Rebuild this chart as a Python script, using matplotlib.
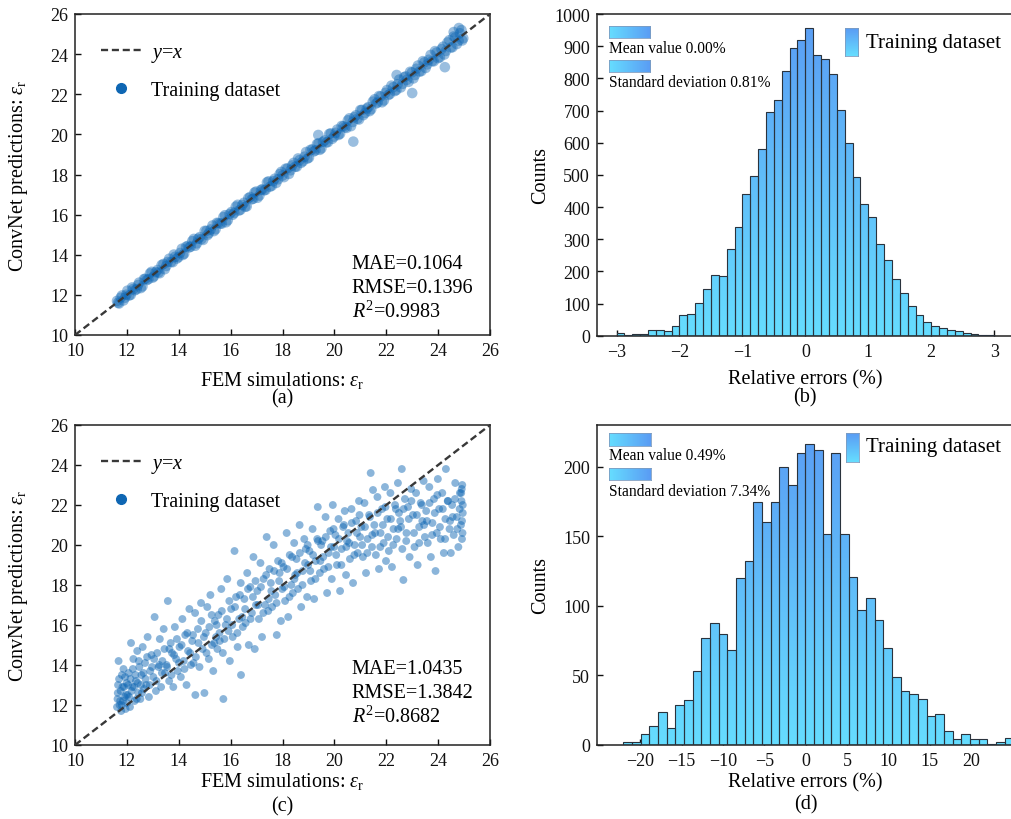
import numpy as np
import matplotlib
matplotlib.use('Agg')
import matplotlib.pyplot as plt
from matplotlib.colors import LinearSegmentedColormap
from matplotlib.path import Path
from matplotlib.patches import PathPatch
from matplotlib.lines import Line2D

plt.rcParams['font.family'] = ['Liberation Serif', 'DejaVu Serif']
plt.rcParams['mathtext.fontset'] = 'custom'
plt.rcParams['mathtext.rm'] = 'Liberation Serif'
plt.rcParams['mathtext.it'] = 'Liberation Serif:italic'
plt.rcParams['mathtext.bf'] = 'Liberation Serif:bold'

# ---------------- data ----------------
# (a) training set: FEM vs ConvNet
fem_a = [11.62, 11.70, 11.81, 11.93, 12.02, 12.15, 12.24, 12.38, 12.47, 12.60, 12.71, 12.83, 12.95, 13.04,
         13.18, 13.27, 13.41, 13.52, 13.63, 13.77, 13.86, 13.99, 14.12, 14.21, 14.35, 14.46, 14.58, 14.70,
         14.81, 14.94, 15.07, 15.16, 15.30, 15.42, 15.53, 15.66, 15.78, 15.89, 16.03, 16.14, 16.27, 16.38,
         16.51, 16.62, 16.75, 16.87, 16.98, 17.11, 17.23, 17.35, 17.46, 17.59, 17.70, 17.83, 17.95, 18.06,
         18.19, 18.31, 18.43, 18.55, 18.66, 18.79, 18.91, 19.02, 19.15, 19.27, 19.39, 19.50, 19.63, 19.75,
         19.86, 19.99, 20.11, 20.22, 20.35, 20.47, 20.58, 20.71, 20.83, 20.95, 21.06, 21.19, 21.31, 21.42,
         21.55, 21.67, 21.78, 21.91, 22.03, 22.14, 22.27, 22.39, 22.50, 22.63, 22.75, 22.86, 22.99, 23.11,
         23.22, 23.35, 23.47, 23.58, 23.71, 23.83, 23.94, 24.07, 24.19, 24.30, 24.43, 24.55, 24.66, 24.79,
         24.90, 24.97, 20.73, 23.00, 24.26, 22.40, 19.38, 24.80, 24.60,
         11.66, 11.76, 11.87, 11.98, 12.09, 12.20, 12.31, 12.43, 12.54, 12.66,
         12.77, 12.89, 13.00, 13.11, 13.22, 13.34, 13.46, 13.57, 13.70, 13.81,
         13.93, 14.05, 14.16, 14.28, 14.40, 14.52, 14.64, 14.75, 14.87, 15.00,
         15.11, 15.23, 15.36, 15.47, 15.60, 15.72, 15.83, 15.96, 16.08, 16.20,
         16.32, 16.45, 16.56, 16.68, 16.81, 16.92, 17.04, 17.17, 17.29, 17.40,
         17.52, 17.64, 17.76, 17.89, 18.00, 18.12, 18.25, 18.37, 18.49, 18.60,
         18.72, 18.85, 18.96, 19.08, 19.21, 19.33, 19.44, 19.56, 19.69, 19.80,
         19.92, 20.05, 20.16, 20.28, 20.41, 20.52, 20.64, 20.77, 20.89, 21.00,
         21.12, 21.25, 21.36, 21.48, 21.61, 21.72, 21.84, 21.97, 22.08, 22.20,
         22.33, 22.44, 22.56, 22.69, 22.80, 22.92, 23.05, 23.16, 23.28, 23.41,
         23.52, 23.64, 23.77, 23.88, 24.00, 24.13, 24.24, 24.36, 24.49, 24.60,
         24.72, 24.84, 24.93]
pred_a = [11.70, 11.57, 11.97, 11.86, 12.21, 12.00, 12.29, 12.28, 12.61, 12.42, 12.80, 12.78, 13.15, 12.92,
          13.24, 13.08, 13.54, 13.44, 13.80, 13.63, 13.90, 13.88, 14.30, 14.05, 14.44, 14.40, 14.79, 14.57,
          14.88, 14.74, 15.19, 15.07, 15.46, 15.27, 15.58, 15.55, 15.97, 15.72, 16.13, 16.08, 16.49, 16.24,
          16.59, 16.41, 16.88, 16.79, 17.15, 16.95, 17.27, 17.23, 17.66, 17.44, 17.79, 17.76, 18.13, 17.87,
          18.30, 18.21, 18.58, 18.39, 18.72, 18.66, 19.12, 18.84, 19.25, 19.20, 19.56, 19.30, 19.70, 19.61,
          20.05, 19.89, 20.24, 20.03, 20.41, 20.32, 20.80, 20.62, 20.95, 20.74, 21.22, 21.07, 21.36, 21.25,
          21.75, 21.59, 21.89, 21.69, 22.21, 22.01, 22.35, 22.21, 22.73, 22.52, 22.89, 22.62, 23.09, 22.96,
          23.43, 23.15, 23.59, 23.49, 23.96, 23.64, 24.08, 23.84, 24.37, 24.16, 24.69, 24.34, 24.83, 24.67,
          25.20, 24.79, 19.64, 22.06, 23.35, 22.96, 19.97, 25.30, 25.10,
          11.61, 11.86, 11.72, 12.01, 11.97, 12.37, 12.23, 12.49, 12.34, 12.79,
          12.74, 13.07, 12.86, 13.13, 13.12, 13.49, 13.28, 13.64, 13.64, 14.01,
          13.81, 14.09, 13.99, 14.40, 14.36, 14.68, 14.45, 14.80, 14.78, 15.19,
          14.98, 15.26, 15.18, 15.59, 15.55, 15.88, 15.62, 16.03, 15.99, 16.40,
          16.20, 16.48, 16.39, 16.82, 16.76, 17.10, 16.84, 17.23, 17.21, 17.61,
          17.39, 17.67, 17.58, 18.02, 17.95, 18.29, 18.03, 18.45, 18.39, 18.80,
          18.58, 18.89, 18.79, 19.23, 19.15, 19.52, 19.23, 19.63, 19.60, 20.02,
          19.78, 20.08, 19.97, 20.42, 20.35, 20.70, 20.41, 20.86, 20.78, 21.21,
          20.96, 21.29, 21.16, 21.63, 21.54, 21.91, 21.60, 22.07, 21.96, 22.43,
          22.16, 22.50, 22.34, 22.85, 22.72, 23.12, 22.79, 23.27, 23.13, 23.65,
          23.31, 23.72, 23.65, 24.15, 23.80, 24.25, 23.98, 24.58, 24.33, 24.88,
          24.50, 25.04, 24.68]

# (c) test set: FEM vs ConvNet
fem_c = [11.62, 11.65, 11.70, 11.74, 11.78, 11.83, 11.87, 11.91, 11.95, 11.99, 11.68, 11.80,
         12.03, 12.07, 12.12, 12.16, 12.21, 12.25, 12.30, 12.35, 12.40, 12.44, 12.48,
         12.52, 12.56, 12.61, 12.66, 12.70, 12.75, 12.80, 12.85, 12.90, 12.95,
         13.02, 13.07, 13.12, 13.17, 13.22, 13.27, 13.32, 13.37, 13.42, 13.47,
         13.53, 13.58, 13.63, 13.69, 13.74, 13.79, 13.85, 13.90, 13.96,
         14.03, 14.08, 14.14, 14.19, 14.25, 14.30, 14.36, 14.41, 14.47,
         14.52, 14.57, 14.63, 14.64, 14.74, 14.80, 14.86, 14.92, 14.99,
         15.04, 15.10, 15.16, 15.22, 15.28, 15.33, 15.39, 15.44, 15.49,
         15.53, 15.58, 15.64, 15.70, 15.72, 15.81, 15.87, 15.92, 15.97,
         16.02, 16.08, 16.15, 16.21, 16.27, 16.33, 16.39, 16.40, 16.47,
         16.53, 16.58, 16.64, 16.70, 16.76, 16.82, 16.88, 16.93, 16.98,
         17.03, 17.09, 17.15, 17.21, 17.27, 17.33, 17.39, 17.45, 17.50,
         17.55, 17.60, 17.66, 17.72, 17.78, 17.83, 17.89, 17.94, 17.99,
         18.04, 18.10, 18.16, 18.22, 18.28, 18.34, 18.40, 18.45, 18.49,
         18.54, 18.60, 18.66, 18.72, 18.78, 18.84, 18.90, 18.95, 18.99,
         19.04, 19.10, 19.16, 19.22, 19.28, 19.34, 19.36, 19.44, 19.49,
         19.54, 19.60, 19.66, 19.72, 19.78, 19.84, 19.90, 19.94, 19.99,
         20.04, 20.10, 20.16, 20.22, 20.28, 20.34, 20.40, 20.45, 20.49,
         20.54, 20.60, 20.66, 20.72, 20.78, 20.84, 20.90, 20.95, 20.99,
         21.04, 21.10, 21.16, 21.22, 21.28, 21.34, 21.40, 21.45, 21.49,
         21.54, 21.60, 21.66, 21.72, 21.78, 21.84, 21.90, 21.95, 21.99,
         22.04, 22.10, 22.16, 22.22, 22.28, 22.34, 22.40, 22.45, 22.49,
         22.54, 22.60, 22.62, 22.66, 22.72, 22.78, 22.84, 22.90, 22.96,
         23.03, 23.09, 23.15, 23.21, 23.27, 23.33, 23.39, 23.44, 23.49,
         23.54, 23.60, 23.66, 23.72, 23.78, 23.84, 23.90, 23.95, 23.99,
         24.04, 24.10, 24.16, 24.22, 24.28, 24.30, 24.38, 24.44, 24.49,
         24.54, 24.60, 24.66, 24.72, 24.78, 24.84, 24.88, 24.90, 24.92, 24.93, 24.95, 24.91,
         # denser core of the cloud
         11.64, 11.66, 11.72, 11.76, 11.81, 11.85, 11.89, 11.93, 11.97, 12.01,
         12.05, 12.09, 12.14, 12.18, 12.23, 12.28, 12.33, 12.38, 12.42, 12.46,
         12.54, 12.58, 12.64, 12.72, 12.78, 12.88, 12.97, 13.05, 13.14, 13.25, 13.35, 13.45,
         13.55, 13.64, 13.72, 13.82, 13.93, 14.01, 14.11, 14.22, 14.33, 14.44,
         14.55, 14.66, 14.76, 14.87, 14.97, 15.07, 15.18, 15.27, 15.37, 15.46,
         15.57, 15.66, 15.76, 15.86, 15.95, 16.06, 16.17, 16.26, 16.36, 16.45,
         16.56, 16.67, 16.77, 16.86, 16.96, 17.06, 17.17, 17.26, 17.37, 17.47,
         17.57, 17.68, 17.77, 17.87, 17.97, 18.07, 18.18, 18.27, 18.37, 18.46,
         18.57, 18.67, 18.77, 18.87, 18.97, 19.07, 19.18, 19.27, 19.37, 19.46,
         19.57, 19.67, 19.77, 19.87, 19.97, 20.07, 20.18, 20.27, 20.37, 20.46,
         20.57, 20.67, 20.77, 20.87, 20.97, 21.07, 21.18, 21.27, 21.37, 21.46,
         21.57, 21.67, 21.77, 21.87, 21.97, 22.07, 22.18, 22.27, 22.37, 22.46,
         22.57, 22.67, 22.77, 22.87, 22.97, 23.07, 23.18, 23.27, 23.37, 23.46,
         23.57, 23.67, 23.77, 23.87, 23.97, 24.07, 24.18, 24.27, 24.37, 24.46,
         24.56, 24.65, 24.74, 24.83, 24.89, 24.92, 24.94, 24.95]
pred_c = [11.9, 12.6, 13.3, 12.2, 11.7, 12.9, 13.8, 12.4, 11.8, 13.1, 14.2, 12.0,
          12.5, 13.6, 11.9, 15.1, 12.9, 14.3, 12.2, 13.2, 14.7, 12.6, 13.9,
          12.3, 13.5, 14.9, 12.8, 14.1, 13.0, 15.4, 12.4, 13.7, 14.5,
          13.4, 16.4, 12.7, 14.6, 13.9, 15.3, 12.9, 14.2, 15.8, 13.6,
          14.0, 17.2, 13.2, 15.1, 14.6, 12.9, 15.9, 14.3, 13.7,
          14.9, 13.4, 16.3, 14.2, 15.5, 13.0, 14.7, 16.8, 14.0,
          15.2, 14.1, 16.6, 12.5, 15.8, 13.9, 17.1, 14.8, 12.6,
          15.6, 16.9, 14.3, 17.5, 15.0, 13.7, 16.2, 15.4, 14.8,
          16.5, 15.2, 17.8, 14.6, 12.3, 16.0, 18.3, 15.7, 14.2,
          16.8, 15.4, 19.7, 17.4, 14.9, 16.3, 18.1, 13.5, 15.9,
          17.3, 16.1, 18.6, 15.0, 17.9, 16.6, 19.4, 14.8, 17.0,
          17.7, 16.3, 19.1, 15.4, 18.3, 17.0, 20.4, 16.7, 18.8,
          18.1, 16.9, 20.0, 17.5, 15.5, 19.2, 18.6, 16.2, 17.8,
          18.9, 17.2, 20.6, 16.4, 19.5, 18.0, 17.6, 20.1, 18.5,
          19.3, 17.8, 21.0, 16.9, 18.7, 20.3, 19.8, 17.4, 19.0,
          19.7, 18.2, 20.8, 17.3, 19.2, 20.3, 21.9, 18.6, 20.0,
          20.2, 18.8, 21.4, 17.6, 19.6, 20.7, 18.3, 22.0, 19.9,
          20.5, 19.0, 21.3, 17.7, 19.8, 20.9, 21.7, 18.5, 20.2,
          20.6, 19.3, 21.8, 18.1, 20.0, 21.2, 19.6, 22.2, 20.4,
          20.9, 19.4, 22.1, 18.6, 20.3, 21.5, 23.6, 19.9, 22.75,
          21.0, 19.5, 22.4, 18.8, 20.6, 21.8, 20.1, 22.9, 19.2,
          21.3, 19.7, 22.6, 18.9, 20.8, 22.0, 20.3, 23.1, 21.6,
          21.2, 23.8, 19.8, 18.25, 22.3, 20.6, 21.9, 19.4, 22.8,
          21.5, 19.9, 22.6, 19.0, 20.9, 22.1, 21.2, 23.2, 20.4,
          21.7, 20.1, 22.9, 19.4, 21.1, 22.3, 18.7, 20.6, 23.3,
          21.8, 20.3, 22.6, 19.6, 21.3, 23.8, 22.2, 20.8, 19.6,
          22.0, 20.5, 23.1, 21.4, 19.9, 22.6, 21.0, 22.2, 20.3, 23.0, 21.6, 22.8,
          # denser core of the cloud
          12.3, 13.0, 12.0, 12.7, 13.5, 12.2, 12.9, 13.4, 12.5, 12.1,
          13.0, 12.4, 13.3, 12.7, 13.8, 12.9, 13.5, 12.3, 13.1, 14.2,
          13.0, 12.6, 13.6, 13.3, 14.4, 13.0, 13.9, 14.3, 13.2, 14.0, 13.6, 14.8,
          13.9, 14.8, 13.5, 14.5, 15.3, 14.1, 15.0, 13.8, 15.6, 14.6,
          15.5, 14.4, 15.1, 16.2, 15.4, 14.6, 15.9, 16.5, 15.1, 16.0,
          15.6, 16.7, 15.3, 16.3, 17.2, 16.0, 16.9, 15.6, 17.5, 16.4,
          16.8, 17.8, 16.3, 17.4, 18.2, 17.0, 17.9, 16.6, 18.5, 17.3,
          17.7, 18.7, 17.1, 18.2, 19.1, 17.9, 18.8, 17.4, 19.4, 18.3,
          18.6, 19.6, 18.0, 19.1, 20.0, 18.7, 19.5, 18.3, 20.2, 19.2,
          19.4, 20.4, 18.9, 19.9, 20.8, 19.5, 20.3, 19.0, 21.0, 19.9,
          20.1, 21.1, 19.5, 20.6, 21.5, 20.0, 20.9, 19.6, 21.4, 20.5,
          20.6, 21.6, 19.9, 21.0, 21.9, 20.4, 21.3, 20.0, 21.8, 20.8,
          20.9, 21.8, 20.2, 21.3, 22.2, 20.6, 21.5, 20.1, 22.0, 21.0,
          21.2, 22.1, 20.5, 21.6, 22.5, 20.9, 21.8, 20.3, 22.2, 21.2,
          21.4, 22.3, 20.8, 21.8, 22.6, 21.2, 20.6, 22.0]

metrics_a = ["MAE=0.1064", "RMSE=0.1396", r"$R^{2}$=0.9983"]
metrics_c = ["MAE=1.0435", "RMSE=1.3842", r"$R^{2}$=0.8682"]

# (b) histogram of relative errors, bins of 0.125 % from -3 to 3
hist_b_start, hist_b_width = -3.0, 0.125
counts_b = [7, 2, 4, 6, 18, 18, 15, 31, 65, 68, 101, 145, 190, 186, 268, 337, 439, 495, 580, 694,
            733, 823, 894, 919, 956, 873, 860, 814, 702, 600, 493, 410, 369, 285, 234, 175, 132, 92,
            64, 44, 30, 24, 19, 14, 8, 5, 2, 1]
stats_b = ["Mean value 0.00%", "Standard deviation 0.81%"]

# (d) histogram of relative errors
hist_d_start, hist_d_width = -22.05, 1.048
counts_d = [2, 2, 8, 14, 24, 12, 29, 32, 53, 77, 88, 80, 68, 120, 132, 175, 160, 175, 200, 187,
            210, 216, 212, 152, 210, 152, 121, 97, 106, 90, 70, 49, 39, 37, 33, 21, 22, 10, 4, 8,
            4, 4, 1, 2, 5]
stats_d = ["Mean value 0.49%", "Standard deviation 7.34%"]

ticks_scatter = [10, 12, 14, 16, 18, 20, 22, 24, 26]
ticks_bx = [-3, -2, -1, 0, 1, 2, 3]
ticks_by = list(range(0, 1001, 100))
ticks_dx = [-20, -15, -10, -5, 0, 5, 10, 15, 20]
ticks_dy = [0, 50, 100, 150, 200]

# ---------------- style ----------------
PT = '#0e66b3'
LINE = '#383838'
SPINE = '#222222'
CMAP = LinearSegmentedColormap.from_list('cb', ['#66ddff', '#5a9cf4'])
TICK_FS = 13
LAB_FS = 14.5

W, H = 1011, 820
fig = plt.figure(figsize=(W / 100, H / 100), dpi=100)


def px_axes(l, t, r, b):
    return fig.add_axes([l / W, 1 - b / H, (r - l) / W, (b - t) / H])


def style_axes(ax):
    for s in ax.spines.values():
        s.set_color(SPINE)
        s.set_linewidth(1.1)
    ax.tick_params(direction='in', length=4, width=1, labelsize=TICK_FS, top=False, right=False,
                   pad=5, colors='#111111')


def scatter_panel(ax, x, y, metrics, alpha, s, mty):
    ax.plot([10, 26], [10, 26], ls=(0, (3, 1.6)), color=LINE, lw=1.7, zorder=3)
    ax.scatter(x, y, s=s, color=PT, alpha=alpha, edgecolors='none', zorder=2)
    ax.set_xlim(10, 26)
    ax.set_ylim(10, 26)
    ax.set_xticks(ticks_scatter)
    ax.set_yticks(ticks_scatter)
    style_axes(ax)
    handles = [Line2D([], [], ls=(0, (3, 1.6)), color=LINE, lw=1.7),
               Line2D([], [], ls='none', marker='o', color=PT, markersize=7)]
    ax.legend(handles, [r"$y$=$x$", "Training dataset"], loc='upper left', frameon=False,
              fontsize=LAB_FS, handlelength=2.0, handletextpad=0.45, labelspacing=0.8,
              bbox_to_anchor=(0.0, 0.99), borderaxespad=0.9)
    for i, m in enumerate(metrics):
        ax.text(0.667, mty - i * 0.075, m, transform=ax.transAxes, fontsize=LAB_FS,
                va='center', ha='left')
    ax.set_ylabel(r"ConvNet predictions: $\varepsilon_{\mathrm{r}}$", fontsize=LAB_FS)
    ax.yaxis.set_label_coords(-0.108, 0.5)
    return ax


def grad_patch(ax, bounds, horizontal):
    ins = ax.inset_axes(bounds)
    if horizontal:
        g = np.linspace(0, 1, 64).reshape(1, -1)
    else:
        g = np.linspace(0, 1, 64).reshape(-1, 1)
    ins.imshow(g, cmap=CMAP, aspect='auto', origin='lower', extent=(0, 1, 0, 1))
    ins.set_xticks([])
    ins.set_yticks([])
    for s in ins.spines.values():
        s.set_color('#7d9cc0')
        s.set_linewidth(0.6)


def hist_panel(ax, start, width, counts, xlim, ymax, xt, yt, stats, geo):
    n = len(counts)
    edges = start + width * np.arange(n + 1)
    bars = ax.bar(edges[:-1], counts, width=width, align='edge', facecolor='none',
                  edgecolor='#2a333d', linewidth=0.8, zorder=3)
    paths = [p.get_path().transformed(p.get_patch_transform()) for p in bars.patches]
    compound = Path.make_compound_path(*paths)
    grad = np.linspace(0, 1, 256).reshape(-1, 1)
    im = ax.imshow(grad, cmap=CMAP, origin='lower', extent=(xlim[0], xlim[1], 0, ymax),
                   aspect='auto', zorder=2, interpolation='bilinear')
    clip = PathPatch(compound, transform=ax.transData, facecolor='none', edgecolor='none')
    im.set_clip_path(clip)
    ax.set_xlim(*xlim)
    ax.set_ylim(0, ymax)
    ax.set_xticks(xt)
    ax.set_yticks(yt)
    style_axes(ax)
    ax.spines['right'].set_visible(False)
    ax.set_ylabel("Counts", fontsize=LAB_FS)
    ax.yaxis.set_label_coords(-0.113, 0.5)
    (p1, t1, p2, t2, tp, tt) = geo
    grad_patch(ax, p1, True)
    ax.text(0.0288, t1, stats[0], transform=ax.transAxes, fontsize=11.2, va='center', ha='left')
    grad_patch(ax, p2, True)
    ax.text(0.0288, t2, stats[1], transform=ax.transAxes, fontsize=11.2, va='center', ha='left')
    grad_patch(ax, tp, False)
    ax.text(tt[0], tt[1], "Training dataset", transform=ax.transAxes, fontsize=LAB_FS + 0.5,
            va='center', ha='left')


axA = px_axes(75, 15, 490, 336)
axB = px_axes(597, 15, 1013.7, 336.7)
axC = px_axes(75, 426, 490, 746)
axD = px_axes(597, 426, 1014.4, 746)

scatter_panel(axA, fem_a, pred_a, metrics_a, 0.42, 58, 0.224)
scatter_panel(axC, fem_c, pred_c, metrics_c, 0.48, 32, 0.24)

hist_panel(axB, hist_b_start, hist_b_width, counts_b, (-3.31, 3.31), 1000, ticks_bx, ticks_by, stats_b,
           ([0.0288, 0.9245, 0.0984, 0.0373], 0.8934, [0.0288, 0.8188, 0.0984, 0.0382], 0.7896,
            [0.595, 0.8694, 0.0312, 0.087], (0.6455, 0.912)))
hist_panel(axD, hist_d_start, hist_d_width, counts_d, (-25.24, 25.24), 230, ticks_dx, ticks_dy, stats_d,
           ([0.0287, 0.9353, 0.1006, 0.0397], 0.906, [0.0287, 0.829, 0.1006, 0.0366], 0.7947,
            [0.5965, 0.8853, 0.0311, 0.0897], (0.6445, 0.932)))


def xlab(ax, text, y_lab, tag, y_tag):
    ax.text(0.5, y_lab, text, transform=ax.transAxes, fontsize=LAB_FS, ha='center', va='center')
    ax.text(0.5, y_tag, tag, transform=ax.transAxes, fontsize=LAB_FS, ha='center', va='center')


xlab(axA, r"FEM simulations: $\varepsilon_{\mathrm{r}}$", -0.138, '(a)', -0.196)
xlab(axB, "Relative errors (%)", -0.135, '(b)', -0.19)
xlab(axC, r"FEM simulations: $\varepsilon_{\mathrm{r}}$", -0.11, '(c)', -0.19)
xlab(axD, "Relative errors (%)", -0.116, '(d)', -0.184)

fig.savefig('out.png', dpi=100)
